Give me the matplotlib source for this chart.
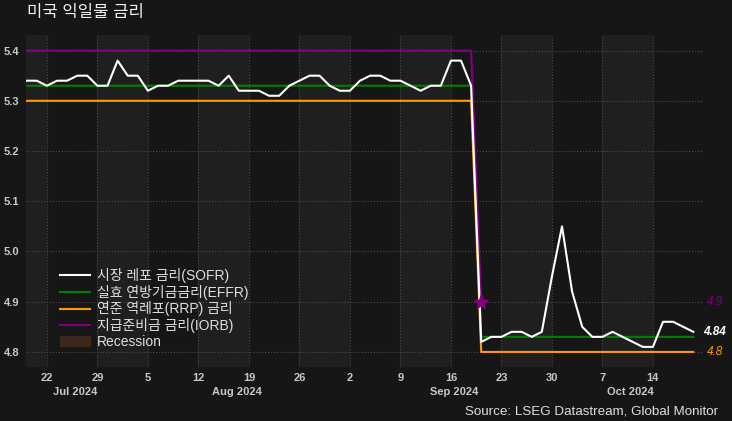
import matplotlib.pyplot as plt
import matplotlib.transforms as mtransforms
from matplotlib.patches import Patch
import pandas as pd

plt.rcParams['font.family'] = ['Liberation Sans', 'Noto Sans CJK KR']

# business days shown on the chart
dates = pd.bdate_range('2024-07-18', '2024-10-18')

sofr = [5.34, 5.34, 5.33, 5.34, 5.34, 5.35, 5.35, 5.33, 5.33, 5.38,
        5.35, 5.35, 5.32, 5.33, 5.33, 5.34, 5.34, 5.34, 5.34, 5.33,
        5.35, 5.32, 5.32, 5.32, 5.31, 5.31, 5.33, 5.34, 5.35, 5.35,
        5.33, 5.32, 5.32, 5.34, 5.35, 5.35, 5.34, 5.34, 5.33, 5.32,
        5.33, 5.33, 5.38, 5.38, 5.33, 4.82, 4.83, 4.83, 4.84, 4.84,
        4.83, 4.84, 4.95, 5.05, 4.92, 4.85, 4.83, 4.83, 4.84, 4.83,
        4.82, 4.81, 4.81, 4.86, 4.86, 4.85, 4.84]
effr = [5.33, 5.33, 5.33, 5.33, 5.33, 5.33, 5.33, 5.33, 5.33, 5.33,
        5.33, 5.33, 5.33, 5.33, 5.33, 5.33, 5.33, 5.33, 5.33, 5.33,
        5.33, 5.33, 5.33, 5.33, 5.33, 5.33, 5.33, 5.33, 5.33, 5.33,
        5.33, 5.33, 5.33, 5.33, 5.33, 5.33, 5.33, 5.33, 5.33, 5.33,
        5.33, 5.33, 5.33, 5.33, 5.33, 4.83, 4.83, 4.83, 4.83, 4.83,
        4.83, 4.83, 4.83, 4.83, 4.83, 4.83, 4.83, 4.83, 4.83, 4.83,
        4.83, 4.83, 4.83, 4.83, 4.83, 4.83, 4.83]
rrp = [5.30, 5.30, 5.30, 5.30, 5.30, 5.30, 5.30, 5.30, 5.30, 5.30,
       5.30, 5.30, 5.30, 5.30, 5.30, 5.30, 5.30, 5.30, 5.30, 5.30,
       5.30, 5.30, 5.30, 5.30, 5.30, 5.30, 5.30, 5.30, 5.30, 5.30,
       5.30, 5.30, 5.30, 5.30, 5.30, 5.30, 5.30, 5.30, 5.30, 5.30,
       5.30, 5.30, 5.30, 5.30, 5.30, 4.80, 4.80, 4.80, 4.80, 4.80,
       4.80, 4.80, 4.80, 4.80, 4.80, 4.80, 4.80, 4.80, 4.80, 4.80,
       4.80, 4.80, 4.80, 4.80, 4.80, 4.80, 4.80]
iorb = [5.40, 5.40, 5.40, 5.40, 5.40, 5.40, 5.40, 5.40, 5.40, 5.40,
        5.40, 5.40, 5.40, 5.40, 5.40, 5.40, 5.40, 5.40, 5.40, 5.40,
        5.40, 5.40, 5.40, 5.40, 5.40, 5.40, 5.40, 5.40, 5.40, 5.40,
        5.40, 5.40, 5.40, 5.40, 5.40, 5.40, 5.40, 5.40, 5.40, 5.40,
        5.40, 5.40, 5.40, 5.40, 5.40, 4.90]

names = ['시장 레포 금리(SOFR)', '실효 연방기금금리(EFFR)',
         '연준 역레포(RRP) 금리', '지급준비금 금리(IORB)', 'Recession']
yticks = [4.8, 4.9, 5.0, 5.1, 5.2, 5.3, 5.4]
title = '미국 익일물 금리'
source = 'Source: LSEG Datastream, Global Monitor'

bg = '#161616'
band = '#1f1f1f'
c_sofr, c_effr, c_rrp, c_iorb = 'white', '#008000', '#ff9a00', '#800080'
txt = '#c8c8c8'

fig = plt.figure(figsize=(7.32, 4.21), dpi=100, facecolor=bg)
ax = fig.add_axes([26/732, 1-367/421, 676/732, 332/421])
ax.set_facecolor(bg)

x = list(range(len(dates)))
mondays = [i for i, d in enumerate(dates) if d.weekday() == 0]

# alternating weekly shading
ax.axvspan(-1, mondays[0], color=band, lw=0, zorder=0.1)
for k, m in enumerate(mondays):
    if k % 2 == 1:
        ax.axvspan(m, m + 5, color=band, lw=0, zorder=0.1)

ax.plot(x, effr, color=c_effr, lw=1.5, label=names[1], zorder=3)
ax.plot(x, rrp, color=c_rrp, lw=1.5, label=names[2], zorder=3)
ax.plot(x[:len(iorb)], iorb, color=c_iorb, lw=1.5, label=names[3], zorder=3)
ax.plot(x[len(iorb)-1], iorb[-1], marker='*', ms=11, color=c_iorb, zorder=5)
ax.plot(x, sofr, color=c_sofr, lw=1.5, label=names[0], zorder=4)

ax.set_xlim(-0.07, 66.86)
ax.set_ylim(4.77, 5.431)
ax.set_yticks(yticks)
ax.set_yticklabels([f'{v:.1f}' for v in yticks])
ax.set_xticks(mondays)
ax.set_xticklabels([str(dates[m].day) for m in mondays])
ax.tick_params(length=0, colors=txt, labelsize=8)
ax.tick_params(axis='x', pad=4)
ax.tick_params(axis='y', pad=5)
for lb in ax.get_xticklabels() + ax.get_yticklabels():
    lb.set_fontweight('bold')
ax.set_axisbelow(True)
ax.grid(color='#4c4c4c', ls=':', lw=0.8)
for s in ax.spines.values():
    s.set_visible(False)

# month labels under the day ticks
tr = mtransforms.blended_transform_factory(ax.transData, ax.transAxes)
months = pd.Series(x, index=dates).groupby(dates.to_period('M')).mean()
for per, pos in months.items():
    ax.text(pos + 0.3, -0.075, per.strftime('%b %Y'), transform=tr,
            ha='center', va='center', color=txt, fontsize=8, fontweight='bold')

# last-value labels at right
tr2 = mtransforms.blended_transform_factory(ax.transAxes, ax.transData)
ax.text(1.019, iorb[-1], '4.9', transform=tr2, ha='center', va='center',
        color=c_iorb, style='italic', fontsize=8.5)
ax.text(1.019, sofr[-1], '4.84', transform=tr2, ha='center', va='center',
        color='white', style='italic', fontweight='bold', fontsize=8.5)
ax.text(1.019, rrp[-1], '4.8', transform=tr2, ha='center', va='center',
        color=c_rrp, style='italic', fontsize=8.5)

h, l = ax.get_legend_handles_labels()
order = [names[0], names[1], names[2], names[3]]
hd = [h[l.index(n)] for n in order]
hd.append(Patch(color='#3b271c'))
leg = ax.legend(hd, names, loc='lower left', bbox_to_anchor=(0.05, 0.055),
                frameon=False, fontsize=10, labelspacing=0.12,
                handlelength=2.2, handletextpad=0.45, borderpad=0,
                borderaxespad=0)
for t in leg.get_texts():
    t.set_color('#e0e0e0')

fig.text(27/732, 1-13/421, title, fontsize=12, color='#f0f0f0', va='center')
fig.text(718/732, 1-411/421, source, ha='right', va='center',
         fontsize=9.6, color='#e0e0e0')

fig.savefig('out.png', dpi=100, facecolor=bg)
